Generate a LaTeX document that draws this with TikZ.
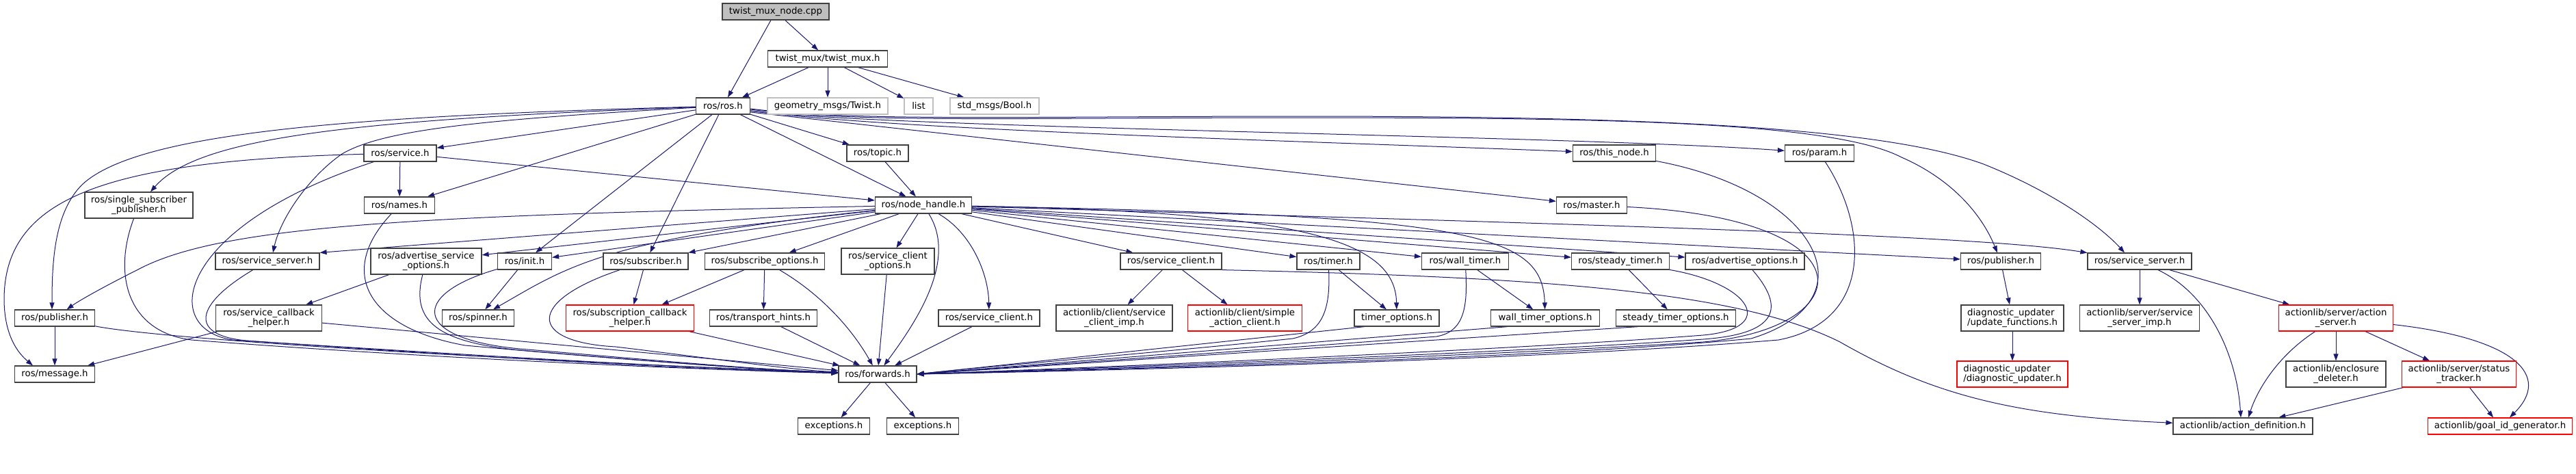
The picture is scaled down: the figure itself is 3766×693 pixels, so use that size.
\documentclass[tikz,border=0pt]{standalone}
\usepackage{fontspec}
\setmainfont{DejaVu Sans}
\usetikzlibrary{arrows.meta}
\pgfdeclarelayer{background}
\pgfsetlayers{background,main}
\definecolor{midnightblue}{rgb}{0.1,0.1,0.44}
\definecolor{grey25}{rgb}{0.25,0.25,0.25}
\definecolor{grey75}{rgb}{0.75,0.75,0.75}
\tikzset{
  archivo/.style={
    draw=grey25,
    line width=1.2pt,
    fill=white,
    align=center,
    inner sep=0pt,
    minimum height=24,
    font=\fontsize{13.3}{14}\selectfont
  },
  doble/.style={
    minimum height=38
  },
  raiz/.style={
    archivo,
    fill=grey75
  },
  externo/.style={
    archivo,
    draw=grey75
  },
  roto/.style={
    archivo,
    draw=red
  },
  arrow/.style={
    -{Triangle[length=10pt,width=7pt]},
    line width=1pt,
    midnightblue
  }
}
\begin{document}
\begin{tikzpicture}[x=1pt,y=-1pt]
\useasboundingbox (0,0) rectangle (3766,693);
\node[raiz, minimum width=156] (root) at (1134,17) {twist\_mux\_node.cpp};
\node[archivo, minimum width=175] (tmux) at (1210,86) {twist\_mux/twist\_mux.h};
\node[archivo, minimum width=79] (ros) at (1057,155) {ros/ros.h};
\node[externo, minimum width=176] (geom) at (1210,155) {geometry\_msgs/Twist.h};
\node[externo, minimum width=42] (list) at (1343,155) {list};
\node[externo, minimum width=130] (bool) at (1454,155) {std\_msgs/Bool.h};
\node[archivo, minimum width=106] (service) at (585,224) {ros/service.h};
\node[archivo, minimum width=90] (topic) at (1283,224) {ros/topic.h};
\node[archivo, minimum width=121] (thisnode) at (2360,224) {ros/this\_node.h};
\node[archivo, minimum width=101] (param) at (2660,224) {ros/param.h};
\node[archivo, doble, minimum width=158] (ssp) at (203,300) {ros/single\_subscriber\\\_publisher.h};
\node[archivo, minimum width=103] (names) at (584,300) {ros/names.h};
\node[archivo, minimum width=141] (nh) at (1350,300) {ros/node\_handle.h};
\node[archivo, minimum width=103] (master) at (2327,300) {ros/master.h};
\node[archivo, minimum width=152] (ssrvL) at (391,382) {ros/service\_server.h};
\node[archivo, doble, minimum width=162] (aso) at (623,382) {ros/advertise\_service\\\_options.h};
\node[archivo, minimum width=79] (init) at (767,382) {ros/init.h};
\node[archivo, minimum width=124] (sub) at (944,382) {ros/subscriber.h};
\node[archivo, minimum width=175] (subopt) at (1118,382) {ros/subscribe\_options.h};
\node[archivo, doble, minimum width=136] (sco) at (1298,382) {ros/service\_client\\\_options.h};
\node[archivo, minimum width=148] (sc1) at (1712,382) {ros/service\_client.h};
\node[archivo, minimum width=92] (timer) at (1942,382) {ros/timer.h};
\node[archivo, minimum width=127] (wtimer) at (2142,382) {ros/wall\_timer.h};
\node[archivo, minimum width=143] (stimer) at (2369,382) {ros/steady\_timer.h};
\node[archivo, minimum width=174] (advopt) at (2551,382) {ros/advertise\_options.h};
\node[archivo, minimum width=117] (pubR) at (2925,382) {ros/publisher.h};
\node[archivo, minimum width=152] (ssrvR) at (3128,382) {ros/service\_server.h};
\node[archivo, minimum width=117] (pubL) at (80,465) {ros/publisher.h};
\node[archivo, doble, minimum width=155] (sch) at (393,465) {ros/service\_callback\\\_helper.h};
\node[archivo, minimum width=105] (spinner) at (699,465) {ros/spinner.h};
\node[roto, doble, minimum width=187] (subcb) at (921,465) {ros/subscription\_callback\\\_helper.h};
\node[archivo, minimum width=157] (hints) at (1116,465) {ros/transport\_hints.h};
\node[archivo, minimum width=148] (sc2) at (1446,465) {ros/service\_client.h};
\node[archivo, doble, minimum width=170] (scimp) at (1629,465) {actionlib/client/service\\\_client\_imp.h};
\node[roto, doble, minimum width=167] (sac) at (1820,465) {actionlib/client/simple\\\_action\_client.h};
\node[archivo, minimum width=124] (topt) at (2042,465) {timer\_options.h};
\node[archivo, minimum width=159] (wtopt) at (2259,465) {wall\_timer\_options.h};
\node[archivo, minimum width=175] (stopt) at (2450,465) {steady\_timer\_options.h};
\node[archivo, doble, align=left, minimum width=150] (updfn) at (2942,465) {diagnostic\_updater\\/update\_functions.h};
\node[archivo, doble, minimum width=175] (ssimp) at (3128,465) {actionlib/server/service\\\_server\_imp.h};
\node[roto, doble, minimum width=167] (asrv) at (3415,465) {actionlib/server/action\\\_server.h};
\node[archivo, minimum width=117] (msg) at (80,547) {ros/message.h};
\node[archivo, minimum width=114] (fwd) at (1283,547) {ros/forwards.h};
\node[roto, doble, align=left, minimum width=162] (diag) at (2942,547) {diagnostic\_updater\\/diagnostic\_updater.h};
\node[archivo, doble, minimum width=146] (encl) at (3415,547) {actionlib/enclosure\\\_deleter.h};
\node[roto, doble, minimum width=167] (stat) at (3595,547) {actionlib/server/status\\\_tracker.h};
\node[archivo, minimum width=105] (exc1) at (1219,623) {exceptions.h};
\node[archivo, minimum width=105] (exc2) at (1349,623) {exceptions.h};
\node[archivo, minimum width=204] (adef) at (3279,623) {actionlib/action\_definition.h};
\node[roto, minimum width=211] (goal) at (3655,623) {actionlib/goal\_id\_generator.h};

\begin{pgfonlayer}{background}
\draw[arrow] (root) -- (ros);
\draw[arrow] (root) -- (tmux);
\draw[arrow] (tmux) -- (ros);
\draw[arrow] (tmux) -- (geom);
\draw[arrow] (tmux) -- (list);
\draw[arrow] (tmux) -- (bool);

\draw[arrow] (ros) -- (service);
\draw[arrow] (ros) -- (names);
\draw[arrow] (ros) .. controls (520,175) and (290,200) .. ([xshift=17pt]ssp.north);
\draw[arrow] (ros) .. controls (500,170) and (200,195) .. (120,270) .. controls (80,310) and (76,380) .. ([xshift=-4pt]pubL.north);
\draw[arrow] (ros) .. controls (700,175) and (560,190) .. (500,225) .. controls (450,260) and (410,320) .. ([xshift=8pt]ssrvL.north);
\draw[arrow] (ros) -- (init);
\draw[arrow] (ros) -- (sub);
\draw[arrow] (ros) -- (nh);
\draw[arrow] (ros) -- (topic);
\draw[arrow] ([yshift=-7pt]ros.east) .. controls (1300,190) and (1900,206) .. (thisnode);
\draw[arrow] ([yshift=-7pt]ros.east) .. controls (1300,188) and (2300,198) .. (param);
\draw[arrow] ([yshift=-9pt]ros.east) -- (master);
\draw[arrow] ([yshift=-5pt]ros.east) .. controls (1250,180) and (1500,172) .. (1900,172) .. controls (2350,172) and (2680,178) .. (2780,230) .. controls (2860,265) and (2900,320) .. (pubR);
\draw[arrow] ([yshift=-4pt]ros.east) .. controls (1250,178) and (1500,170) .. (1900,170) .. controls (2400,170) and (2750,185) .. (2900,240) .. controls (3000,280) and (3070,330) .. ([xshift=-22pt]ssrvR.north);

\draw[arrow] (service) -- (names);
\draw[arrow] (service) -- (nh);
\draw[arrow] (service) .. controls (150,235) and (5,290) .. (6,440) .. controls (7,490) and (25,515) .. ([xshift=-32pt]msg.north);
\draw[arrow] (service) .. controls (260,330) and (230,480) .. (340,497) .. controls (700,520) and (1000,538) .. (fwd);
\draw[arrow] (names) .. controls (490,400) and (540,480) .. (680,505) .. controls (900,525) and (1100,540) .. (fwd);
\draw[arrow] (ssp) .. controls (165,400) and (185,485) .. (280,497) .. controls (600,522) and (1000,540) .. (fwd);
\draw[arrow] (ssrvL) .. controls (285,445) and (275,490) .. (360,498) .. controls (700,522) and (1000,540) .. (fwd);
\draw[arrow] (pubL) -- (msg);
\draw[arrow] (pubL) .. controls (230,495) and (700,525) .. (fwd);
\draw[arrow] (sch) -- (msg);
\draw[arrow] (sch) -- (fwd);
\draw[arrow] (aso) -- (sch);
\draw[arrow] (aso) .. controls (600,470) and (640,500) .. (760,512) .. controls (950,528) and (1100,540) .. (fwd);
\draw[arrow] (init) -- (spinner);
\draw[arrow] (init) .. controls (600,430) and (600,495) .. (760,510) .. controls (950,526) and (1100,540) .. (fwd);
\draw[arrow] (sub) -- (subcb);
\draw[arrow] (sub) .. controls (770,440) and (770,500) .. (900,507) .. controls (1050,525) and (1150,540) .. (fwd);
\draw[arrow] (subopt) -- (subcb);
\draw[arrow] (subopt) -- (hints);
\draw[arrow] (subopt) .. controls (1200,430) and (1245,480) .. (fwd);
\draw[arrow] (subcb) -- (fwd);
\draw[arrow] (hints) -- (fwd);

\draw[arrow] (topic) -- (nh);
\draw[arrow] (nh) .. controls (1400,380) and (1340,470) .. (fwd);
\draw[arrow] (nh) -- (sco);
\draw[arrow] (nh) .. controls (1420,340) and (1445,400) .. (sc2);
\draw[arrow] (nh) -- (sc1);
\draw[arrow] (nh) -- (subopt);
\draw[arrow] (nh) -- (sub);
\draw[arrow] (nh) .. controls (880,350) and (830,390) .. (spinner);
\draw[arrow] (nh) -- (init);
\draw[arrow] (nh) -- (aso);
\draw[arrow] (nh) -- (ssrvL.north east);
\draw[arrow] (nh) .. controls (600,315) and (320,330) .. (200,395) .. controls (150,420) and (115,440) .. (pubL);
\draw[arrow] (nh) -- (timer);
\draw[arrow] (nh) -- (wtimer);
\draw[arrow] (nh) -- (stimer);
\draw[arrow] (nh) -- (advopt);
\draw[arrow] (nh) -- (pubR);
\draw[arrow] (nh) .. controls (2400,330) and (2900,345) .. (ssrvR);
\draw[arrow] (nh) .. controls (1900,310) and (2040,350) .. (topt);
\draw[arrow] (nh) .. controls (2150,315) and (2255,340) .. (wtopt);
\draw[arrow] (sco) -- (fwd);
\draw[arrow] (sc2) -- (fwd);

\draw[arrow] (sc1) -- (scimp);
\draw[arrow] (sc1) -- (sac);
\draw[arrow] (sc1.south east) .. controls (2250,405) and (2540,425) .. (2690,500) .. controls (2830,580) and (2950,608) .. (adef);

\draw[arrow] (timer) -- (topt);
\draw[arrow] (timer) .. controls (1945,450) and (1935,485) .. (1890,495) .. controls (1700,515) and (1450,535) .. (fwd.east);
\draw[arrow] ([xshift=-47pt]topt.south) -- (fwd.east);
\draw[arrow] (wtimer) -- (wtopt);
\draw[arrow] (wtimer) .. controls (2146,450) and (2140,485) .. (2100,492) .. controls (1800,515) and (1500,535) .. (fwd.east);
\draw[arrow] ([xshift=-55pt]wtopt.south) -- (fwd.east);
\draw[arrow] (stimer) -- (stopt);
\draw[arrow] (stimer) .. controls (2560,415) and (2600,480) .. (2490,490) .. controls (2300,505) and (1800,530) .. (fwd.east);
\draw[arrow] ([xshift=-55pt]stopt.south) -- (fwd.east);
\draw[arrow] (advopt) .. controls (2610,450) and (2600,488) .. (2490,496) .. controls (2300,510) and (1800,532) .. (fwd.east);
\draw[arrow] (master) .. controls (2740,320) and (2720,480) .. (2490,500) .. controls (2250,515) and (1800,535) .. (fwd.east);
\draw[arrow] (thisnode) .. controls (2660,280) and (2740,440) .. (2560,495) .. controls (2300,520) and (1800,536) .. (fwd.east);
\draw[arrow] (param) .. controls (2730,330) and (2740,470) .. (2600,497) .. controls (2300,522) and (1800,538) .. (fwd.east);

\draw[arrow] (pubR) -- (updfn);
\draw[arrow] (updfn) -- (diag);
\draw[arrow] (ssrvR) -- (ssimp);
\draw[arrow] (ssrvR) .. controls (3230,430) and (3270,520) .. ([xshift=-3pt]adef.north);
\draw[arrow] (ssrvR) -- (asrv);
\draw[arrow] (asrv) .. controls (3330,520) and (3300,570) .. ([xshift=8pt]adef.north);
\draw[arrow] (asrv) -- (encl);
\draw[arrow] (asrv) -- (stat);
\draw[arrow] (asrv) .. controls (3680,495) and (3730,550) .. ([xshift=14pt]goal.north);
\draw[arrow] (stat) -- (adef);
\draw[arrow] (stat) -- (goal);

\draw[arrow] (fwd) -- (exc1);
\draw[arrow] (fwd) -- (exc2);
\end{pgfonlayer}
\end{tikzpicture}
\end{document}
